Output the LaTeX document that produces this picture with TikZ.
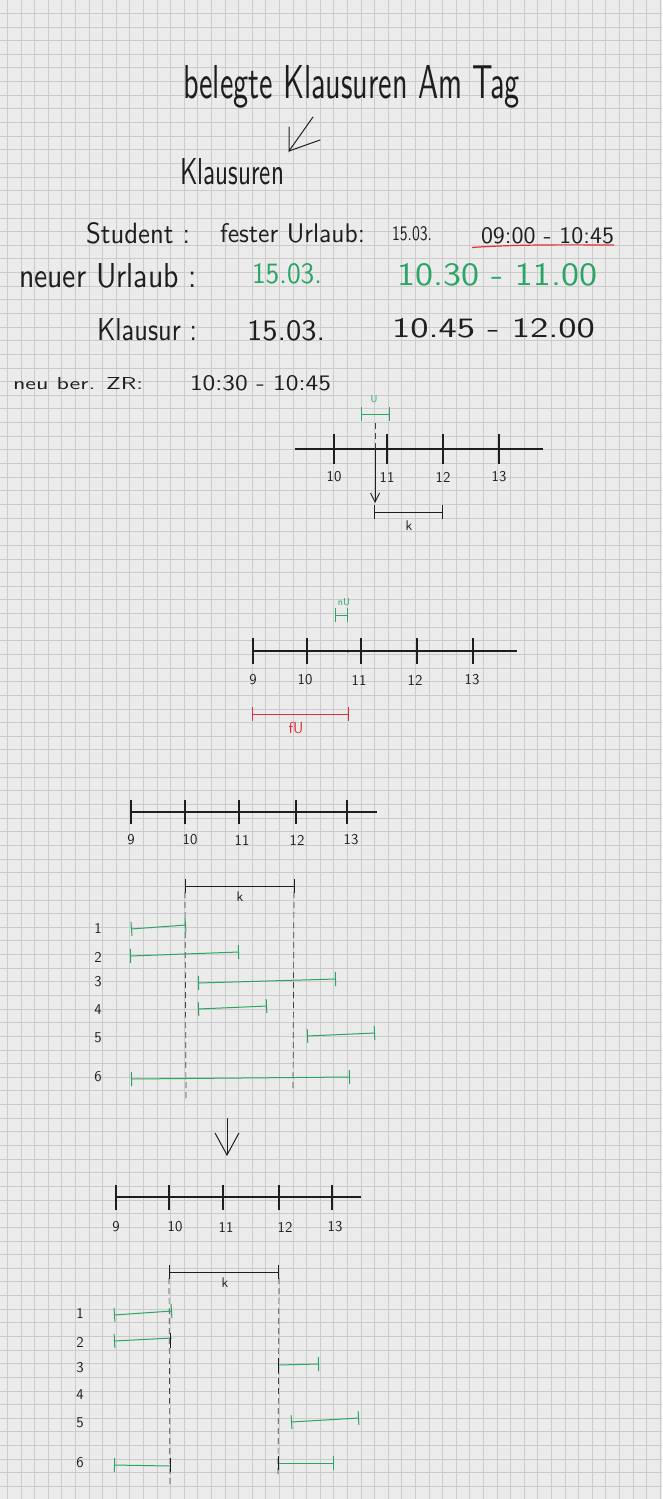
\documentclass[tikz,border=0pt]{standalone}
\usepackage{fontspec}
\usepackage{graphicx}
\usetikzlibrary{arrows.meta}
\definecolor{paper}{HTML}{EBEBEB}
\definecolor{gridc}{HTML}{CBCBCB}
\definecolor{ink}{HTML}{1E1E1E}
\definecolor{pen}{HTML}{2AA565}
\definecolor{redpen}{HTML}{E0303A}
\newcommand\fitbox[3]{\resizebox{#1pt}{#2pt}{#3}}
\begin{document}
\begin{tikzpicture}[x=1pt,y=-1pt,
  hand/.style={inner sep=0pt, outer sep=0pt, anchor=base west, text=ink, font=\sffamily},
  greenhand/.style={hand, text=pen},
  redhand/.style={hand, text=redpen},
  numlabel/.style={inner sep=0pt, text=ink, font=\sffamily\fontsize{15}{15}\selectfont},
  rowlabel/.style={inner sep=0pt, text=ink, font=\sffamily\fontsize{15}{15}\selectfont},
  axisline/.style={draw=ink, line width=1.1pt},
  tickmark/.style={draw=ink, line width=1.1pt},
  guide/.style={draw=ink!85, line width=0.7pt, dash pattern=on 6pt off 4pt},
  span/.style={line width=1pt, {Bar[width=14pt,line width=1pt]}-{Bar[width=14pt,line width=1pt]}},
  greenspan/.style={span, draw=pen},
  blackspan/.style={span, draw=ink},
  redspan/.style={span, draw=redpen},
  gline/.style={draw=pen, line width=1pt},
  gridline/.style={draw=gridc, line width=0.8pt}
]
\useasboundingbox (0,0) rectangle (662,1499);
\fill[paper] (0,0) rectangle (662,1499);
\foreach \i in {0,...,48} \draw[gridline] (7.3+13.6*\i,0) -- ++(0,1499);
\foreach \j in {0,...,109} \draw[gridline] (0,13.3+13.64*\j) -- ++(662,0);

% ---------- header texts ----------
\node[hand] (title) at (183,98) {\fitbox{337}{33}{belegte Klausuren Am Tag}};
\coordinate (arrtail) at (313,117);
\coordinate (arrhead) at (289,151);
\coordinate (arrw1) at (289,127);
\coordinate (arrw2) at (320,140);
\draw[ink, line width=1pt, line cap=round] (arrtail) -- (arrhead) -- (arrw1);
\draw[ink, line width=1pt, line cap=round] (arrhead) -- (arrw2);
\node[hand] (klausuren) at (180,184) {\fitbox{104}{26}{Klausuren}};

\node[hand] (student) at (86,243) {\fitbox{104}{21}{Student :}};
\node[hand] (fester) at (220,242) {\fitbox{145}{19}{fester Urlaub:}};
\node[hand] (d1) at (392,240) {\fitbox{40}{14}{15.03.}};
\node[hand] (t1) at (481,243) {\fitbox{133}{16}{09:00 - 10:45}};
\draw[redpen, line width=1.2pt] (472,247.5) .. controls (520,244) and (580,245) .. (614,245);

\node[hand] (neuer) at (19,287) {\fitbox{178}{24}{neuer Urlaub :}};
\node[greenhand] (d2) at (252,283) {\fitbox{70}{20}{15.03.}};
\node[greenhand] (t2) at (397,285) {\fitbox{200}{22}{10.30 - 11.00}};

\node[hand] (klausur) at (97,340) {\fitbox{100}{22}{Klausur :}};
\node[hand] (d3) at (247,340) {\fitbox{78}{20}{15.03.}};
\node[hand] (t3) at (392,337) {\fitbox{203}{19}{10.45 - 12.00}};

\node[hand] (neuber) at (13,389) {\fitbox{130}{12}{neu ber. ZR:}};
\node[hand] (t4) at (190,390) {\fitbox{141}{15}{10:30 - 10:45}};

% ---------- number line 1 ----------
\coordinate (a1s) at (295,449); \coordinate (a1e) at (543,449);
\draw[axisline] (a1s) -- (a1e);
\foreach \x/\l in {334/10, 387/11, 443/12, 499/13} {
  \draw[tickmark] (\x,434) -- (\x,464);
  \node[numlabel] (n1-\l) at (\x,477) {\l};
}
\coordinate (v1top) at (375,423);
\coordinate (v1mid) at (375,450);
\coordinate (v1bot) at (375,503);
\draw[guide] (v1top) -- (v1mid);
\draw[ink, line width=0.9pt, -{Straight Barb[length=9pt,width=9pt]}] (v1mid) -- (v1bot);
\coordinate (u1a) at (361,414); \coordinate (u1b) at (390,414);
\draw[greenspan] (u1a) -- (u1b);
\node[inner sep=0pt, text=pen, font=\sffamily\fontsize{10}{10}\selectfont] (ulab) at (374,399) {U};
\coordinate (k1a) at (374,512); \coordinate (k1b) at (443,512);
\draw[blackspan] (k1a) -- (k1b);
\node[inner sep=0pt, text=ink, font=\sffamily\fontsize{14}{14}\selectfont] (k1lab) at (409,526) {k};

% ---------- number line 2 ----------
\coordinate (a2s) at (252,651); \coordinate (a2e) at (517,651);
\draw[axisline] (a2s) -- (a2e);
\foreach \x/\l in {253/9, 307/10, 361/11, 417/12, 473/13} {
  \draw[tickmark] (\x,638) -- (\x,664);
}
\foreach \x/\l in {253/9, 305/10, 359/11, 415/12, 472/13} {
  \node[numlabel] (n2-\l) at (\x,680) {\l};
}
\fill[ink] (348,651) circle (1.5pt);
\coordinate (nu1) at (335,615); \coordinate (nu2) at (348,615);
\draw[greenspan] (nu1) -- (nu2);
\node[inner sep=0pt, text=pen, font=\sffamily\fontsize{10}{10}\selectfont] (nulab) at (344,602) {nU};
\coordinate (fu1) at (252,714); \coordinate (fu2) at (349,714);
\draw[redspan] (fu1) -- (fu2);
\node[inner sep=0pt, text=redpen, font=\sffamily\fontsize{16}{16}\selectfont] (fulab) at (296,728) {fU};

% ---------- number line 3 ----------
\coordinate (a3s) at (131,812); \coordinate (a3e) at (377,812);
\draw[axisline] (a3s) -- (a3e);
\foreach \x in {131,185,239,296,347} \draw[tickmark] (\x,800) -- (\x,824);
\foreach \x/\l in {131/9, 190/10, 242/11, 297/12, 351/13} \node[numlabel] (n3-\l) at (\x,840) {\l};
\coordinate (k3a) at (185,886); \coordinate (k3b) at (295,886);
\draw[blackspan] (k3a) -- (k3b);
\node[inner sep=0pt, text=ink, font=\sffamily\fontsize{14}{14}\selectfont] (k3lab) at (240,897) {k};
\draw[guide] (185,892) -- (186,1100);
\draw[guide] (294,892) -- (293,1092);
\foreach \y/\l in {928/1, 957/2, 982/3, 1010/4, 1038/5, 1077/6} \node[rowlabel] (r3-\l) at (98,\y) {\l};
\draw[greenspan] (131,929) -- (186,925);
\draw[greenspan] (130,956) -- (239,952);
\draw[greenspan] (198,983) -- (336,979);
\draw[greenspan] (198,1009) -- (267,1006);
\draw[greenspan] (307,1036) -- (375,1033);
\draw[greenspan] (131,1079) -- (350,1077);

% ---------- arrow down ----------
\coordinate (da1) at (227,1118); \coordinate (da2) at (227,1156);
\draw[ink, line width=1pt, -{Straight Barb[length=22pt,width=24pt,line width=1pt]}] (da1) -- (da2);

% ---------- number line 4 ----------
\coordinate (a4s) at (116,1197); \coordinate (a4e) at (361,1197);
\draw[axisline] (a4s) -- (a4e);
\foreach \x in {116,169,223,279,332} \draw[tickmark] (\x,1185) -- (\x,1210);
\foreach \x/\l in {116/9, 175/10, 226/11, 285/12, 335/13} \node[numlabel] (n4-\l) at (\x,1227) {\l};
\coordinate (k4a) at (169,1272); \coordinate (k4b) at (279,1272);
\draw[blackspan] (k4a) -- (k4b);
\node[inner sep=0pt, text=ink, font=\sffamily\fontsize{14}{14}\selectfont] (k4lab) at (225,1283) {k};
\draw[guide] (169,1278) -- (170,1487);
\draw[guide] (279,1278) -- (278,1477);
\foreach \y/\l in {1313/1, 1342/2, 1368/3, 1395/4, 1423/5, 1463/6} \node[rowlabel] (r4-\l) at (80,\y) {\l};
\draw[greenspan] (114,1315) -- (172,1311);
\draw[gline, {Bar[width=14pt,line width=1pt]}-] (114,1341) -- (172,1338);
\draw[tickmark, line width=1pt] (170,1333) -- (170,1348);
\draw[gline, -{Bar[width=14pt,line width=1pt]}] (278,1365) -- (319,1364);
\draw[tickmark, line width=1pt] (278,1358) -- (278,1372);
\draw[greenspan] (291,1422) -- (359,1418);
\draw[gline, {Bar[width=14pt,line width=1pt]}-] (114,1465) -- (170,1466);
\draw[tickmark, line width=1pt] (170,1458) -- (170,1472);
\draw[gline, -{Bar[width=14pt,line width=1pt]}] (278,1463) -- (334,1463);
\draw[tickmark, line width=1pt] (278,1456) -- (278,1470);
\end{tikzpicture}
\end{document}
